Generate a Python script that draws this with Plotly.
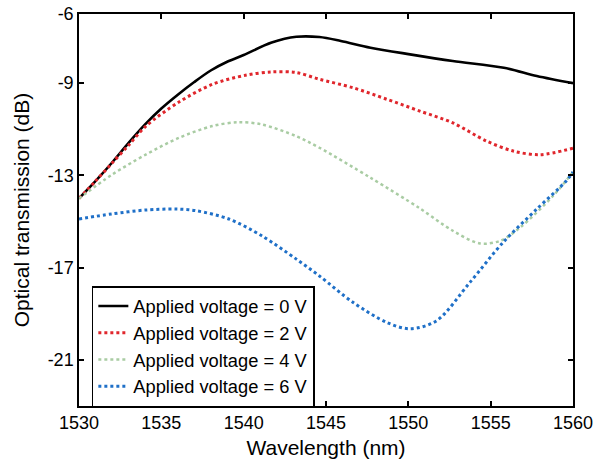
import plotly.graph_objects as go

# Wavelength samples (nm) and transmission (dB) per applied voltage
wl_0v = [1530, 1531, 1532, 1533, 1534, 1535, 1536, 1537, 1538, 1539, 1540,
         1541.7, 1543.2, 1544.6, 1545.9, 1547.7, 1550.1, 1552.7, 1555.8, 1557.8, 1560]
tr_0v = [-14.0, -13.25, -12.45, -11.6, -10.8, -10.1, -9.5, -8.95, -8.45, -8.07, -7.78,
         -7.24, -6.99, -7.0, -7.17, -7.46, -7.75, -8.04, -8.33, -8.69, -9.0]

wl_2v = [1530, 1531, 1532, 1533, 1534.05, 1536.07, 1538.1, 1540.1, 1541.7, 1543.2, 1544.6,
         1546.65, 1548.7, 1550.7, 1552.7, 1554.75, 1556.4, 1558.0, 1560]
tr_2v = [-14.0, -13.25, -12.47, -11.7, -10.87, -9.82, -9.05, -8.66, -8.51, -8.54, -8.83,
         -9.2, -9.7, -10.21, -10.72, -11.51, -11.95, -12.1, -11.82]

wl_4v = [1530, 1532, 1534.05, 1536.07, 1538.1, 1539.7, 1541.1, 1543.2, 1544.6, 1547.7,
         1550.7, 1552.7, 1554.35, 1555.6, 1556.8, 1558.8, 1560]
tr_4v = [-14.0, -12.97, -12.1, -11.37, -10.86, -10.69, -10.79, -11.3, -11.8, -13.1,
         -14.43, -15.4, -15.95, -15.83, -15.25, -13.88, -12.85]

wl_6v = [1530, 1532, 1534.05, 1535.9, 1537.1, 1539.1, 1541.1, 1543.2, 1544.6, 1546.65,
         1548.7, 1550.1, 1551.7, 1553.74, 1555.76, 1557.8, 1559.6, 1560]
tr_6v = [-14.89, -14.67, -14.5, -14.46, -14.53, -14.89, -15.62, -16.63, -17.36, -18.51,
         -19.38, -19.65, -19.31, -17.64, -15.9, -14.46, -13.23, -12.85]

labels = ["Applied voltage = 0 V", "Applied voltage = 2 V",
          "Applied voltage = 4 V", "Applied voltage = 6 V"]

y_ticks = [-6, -9, -13, -17, -21]
y_tick_text = ["-6", "-9", "-13", "-17", "-21"]
x_ticks = [1530, 1535, 1540, 1545, 1550, 1555, 1560]

FONT = "Arial, Liberation Sans, sans-serif"

fig = go.Figure()
fig.add_trace(go.Scatter(x=wl_0v, y=tr_0v, mode="lines", name=labels[0],
                         line=dict(color="black", width=2.6, shape="spline", smoothing=0.9)))
fig.add_trace(go.Scatter(x=wl_2v, y=tr_2v, mode="lines", name=labels[1],
                         line=dict(color="#e0262c", width=3, dash="dot", shape="spline", smoothing=0.9)))
fig.add_trace(go.Scatter(x=wl_4v, y=tr_4v, mode="lines", name=labels[2],
                         line=dict(color="#a9cca3", width=2.5, dash="dot", shape="spline", smoothing=0.9)))
fig.add_trace(go.Scatter(x=wl_6v, y=tr_6v, mode="lines", name=labels[3],
                         line=dict(color="#1f70c8", width=3, dash="dot", shape="spline", smoothing=0.9)))

axis_common = dict(showline=True, linecolor="black", linewidth=1.5, mirror="ticks",
                   ticks="inside", ticklen=5, tickwidth=1.5, tickcolor="black",
                   showgrid=False, zeroline=False, automargin=False,
                   tickfont=dict(family=FONT, size=18, color="black"))

fig.update_xaxes(range=[1530, 1560], tickvals=x_ticks,
                 title=dict(text="Wavelength (nm)", font=dict(family=FONT, size=21, color="black"),
                            standoff=8),
                 **axis_common)
fig.update_yaxes(range=[-23, -6], tickvals=y_ticks, ticktext=y_tick_text,
                 title=dict(text="Optical transmission (dB)", font=dict(family=FONT, size=21, color="black"),
                            standoff=12),
                 **axis_common)

fig.update_layout(
    width=594, height=463,
    margin=dict(l=79, r=21, t=14, b=57, autoexpand=False),
    plot_bgcolor="white", paper_bgcolor="white",
    font=dict(family=FONT, color="black"),
    legend=dict(x=0.026, y=0.306, xanchor="left", yanchor="top",
                bgcolor="white", bordercolor="black", borderwidth=1.5,
                font=dict(family=FONT, size=18.3, color="black"),
                tracegroupgap=0, itemwidth=30),
    showlegend=True,
)

fig.write_html("out.html", config={"displayModeBar": False},
               post_script="document.body.style.margin='0';document.body.style.overflow='hidden';")
